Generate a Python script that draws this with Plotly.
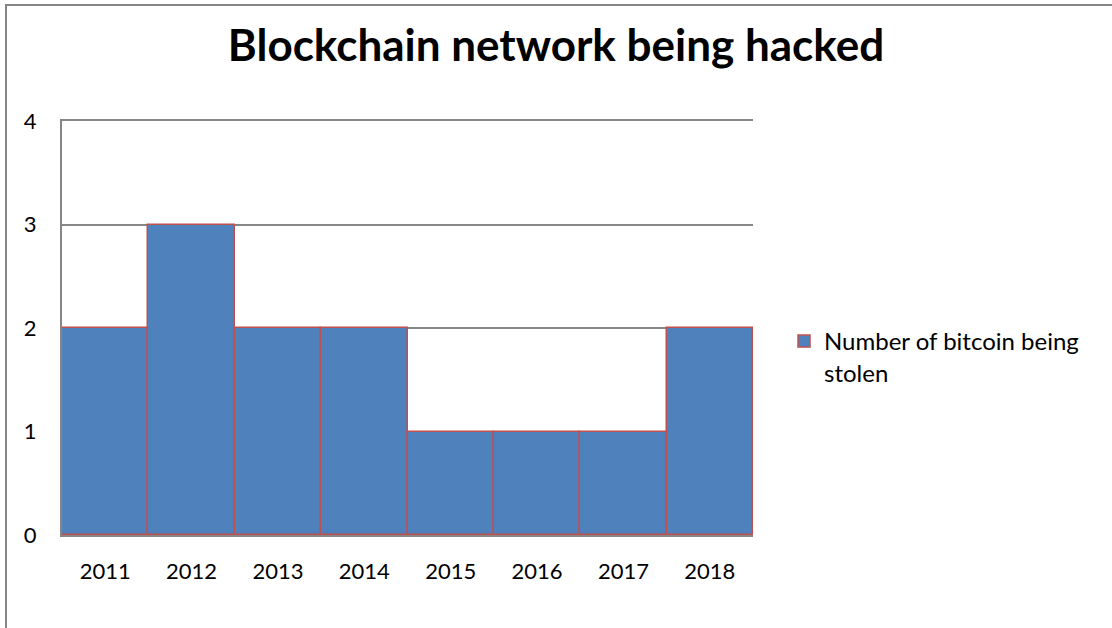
import plotly.graph_objects as go

years = ["2011", "2012", "2013", "2014", "2015", "2016", "2017", "2018"]
stolen = [2, 3, 2, 2, 1, 1, 1, 2]
series_name = "Number of bitcoin being<br>stolen"
title_text = "Blockchain network being hacked"

W, H = 1112, 628
L, R, T, B = 62, 753, 121, 535
pw, ph = R - L, B - T

def px2x(p):
    return (p - L) / pw

def py2y(p):
    return (B - p) / ph

font_family = "Lato, Open Sans, sans-serif"

fig = go.Figure()
fig.add_trace(go.Bar(
    x=years, y=stolen, name=series_name,
    marker=dict(color="#4F81BD", line=dict(color="#C0504D", width=1.5)),
    showlegend=True,
))

fig.update_layout(
    width=W, height=H,
    margin=dict(l=L, r=W - R, t=T, b=H - B),
    paper_bgcolor="white", plot_bgcolor="white",
    bargap=0,
    font=dict(family=font_family, size=22, color="#000000"),
    title=dict(text="<b>" + title_text + "</b>", x=0.5, xanchor="center",
               y=1 - 46 / H, yanchor="middle",
               font=dict(size=44, family=font_family, color="#000000")),
    xaxis=dict(showgrid=False, showline=True, linecolor="#868686", linewidth=2,
               mirror=True,
               ticks="", ticklabelstandoff=16, tickfont=dict(size=22)),
    yaxis=dict(range=[0, 4], tickvals=[0, 1, 2, 3, 4], showgrid=True,
               gridcolor="#868686", gridwidth=1.5,
               showline=True, linecolor="#868686", linewidth=2, zeroline=False,
               ticks="", ticklabelstandoff=19, tickfont=dict(size=22)),
    legend=dict(x=px2x(784), y=py2y(319), xanchor="left", yanchor="top",
                font=dict(size=24, family=font_family), bgcolor="rgba(0,0,0,0)",
                itemwidth=30, tracegroupgap=0, valign="top"),
    shapes=[dict(type="rect", xref="paper", yref="paper",
                 x0=px2x(6), x1=px2x(W + 10), y0=py2y(H + 10), y1=py2y(5),
                 line=dict(color="#868686", width=2), fillcolor="rgba(0,0,0,0)",
                 layer="below")],
)

fig.write_html("out.html")
